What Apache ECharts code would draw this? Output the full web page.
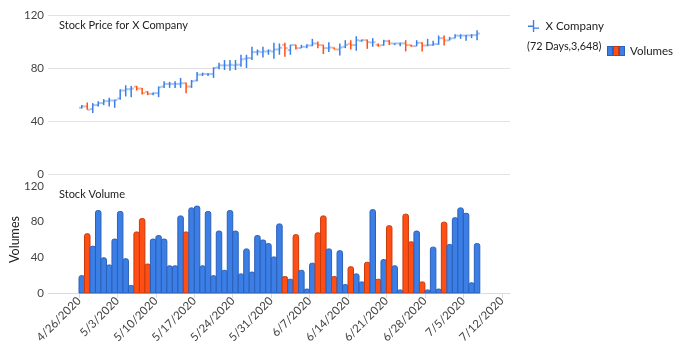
<!DOCTYPE html>
<html>
<head>
<meta charset="utf-8">
<script src="https://cdn.jsdelivr.net/npm/echarts@6/dist/echarts.min.js"></script>
<style>
  html, body { margin: 0; padding: 0; background: #fff; }
  #chart { width: 680px; height: 351px; }
</style>
</head>
<body>
<div id="chart"></div>
<script>
// trading days start on 4/26/2020, one bar per day
const startDate = new Date(2020, 3, 26)
const opens = [
  50, 51, 49, 52, 53.5, 55, 55.5, 57, 63, 64,
  66, 64.5, 62, 60.5, 61, 66, 68, 68, 68, 68.5,
  66, 70.5, 75, 75.5, 75.5, 80.5, 82, 82, 82, 82.5,
  87, 87.5, 92, 92, 92.5, 92.5, 94, 97.5, 93.5, 97.4,
  95, 96, 97, 98.5, 97.3, 95, 95.3, 94, 96, 98.3,
  97.3, 100.5, 101, 99.3, 97.5, 97.3, 100.3, 98.5, 98.5, 98.6,
  97.3, 96.5, 99, 97, 97.3, 98, 102.5, 100.8, 102.5, 104.3,
  104.5, 104.6, 104.8
]
const highs = [
  52, 54, 53.5, 55, 56.5, 57.5, 56, 64, 67, 66.5,
  66.5, 65, 62.5, 61.5, 66, 70, 69.5, 70, 72.5, 69,
  71, 77, 76.5, 76, 80.5, 84, 86, 86, 86, 90,
  90, 96, 94, 96, 94, 99, 98.5, 99, 97.5, 97.5,
  97.5, 98, 102, 100, 97.5, 99.5, 95.5, 98.5, 101, 101,
  104, 101.5, 101.5, 102.5, 98.5, 101.3, 101.3, 98.6, 99, 101,
  97.5, 101, 99.5, 102, 100.5, 104.5, 104.5, 103.5, 105.5, 105.5,
  105, 105.5, 108.5
]
const lows = [
  49.5, 48.5, 46, 51, 52, 51, 50, 56, 58.5, 58,
  63, 60, 59.5, 59.5, 58, 65, 65, 65, 65, 61,
  65, 70, 74, 74, 72.5, 79, 78.5, 78, 78.5, 81,
  80, 86, 89.5, 88, 90, 87, 90, 88.5, 90, 94,
  95, 95, 96.5, 95, 90.5, 92, 94, 89.5, 95, 94,
  93, 100, 94.5, 96, 96, 96.8, 97.3, 97.3, 96.5, 92.5,
  96, 96.5, 92.5, 96.5, 96.8, 97.5, 97, 100.8, 102.4, 102,
  100.5, 102.5, 101
]
const closes = [
  51, 48.5, 52, 53.5, 55, 55.5, 55.8, 63, 64, 64.5,
  64.5, 61, 60.5, 61, 65.5, 68, 68, 68, 68.5, 66,
  70, 75, 75.5, 75.5, 80, 82, 82, 82.5, 82.5, 86.5,
  87.5, 92, 92.5, 92.5, 93, 94, 95.3, 95, 97.4, 95,
  96, 97, 98.5, 97.3, 95, 95.5, 94, 95.5, 97.5, 97.3,
  101, 101, 99.5, 99.5, 97, 100.3, 98.6, 98.6, 98.6, 97.3,
  96.5, 99, 97, 97.3, 98, 102.5, 100.8, 102.2, 104.5, 104.5,
  104.6, 104.8, 106
]
const volumes = [
  20, 67, 53, 93, 40, 32, 61, 92, 39, 9,
  69, 84, 33, 61, 65, 61, 31, 31, 87, 69,
  96, 98, 31, 92, 20, 70, 26, 93, 70, 22,
  50, 24, 65, 60, 56, 41, 78, 19, 16, 66,
  26, 5, 34, 68, 87, 50, 19, 48, 10, 30,
  22, 13, 35, 94, 16, 38, 76, 31, 4, 89,
  58, 70, 13, 4, 52, 5, 80, 55, 85, 96,
  90, 12, 56
]
const weekTicks = [0, 7, 14, 21, 28, 35, 42, 49, 56, 63, 70, 77]
const priceTicks = [0, 40, 80, 120]
const volumeTicks = [0, 40, 80, 120]
const legendNote = '(72 Days,3,648)'

const BLUE = '#3b7ee6'
const BLUE_EDGE = '#2c60b8'
const RED = '#ff4f14'
const RED_EDGE = '#c83a0a'
const FONT = 'Lato'

const priceData = opens.map((o, i) => [i + 0.5, o, highs[i], lows[i], closes[i]])
const volumeData = volumes.map((v, i) => [i + 0.5, v, closes[i] < opens[i] ? 1 : 0])

function dayLabel(d) {
  const t = new Date(startDate.getTime() + Math.round(d) * 86400000)
  return (t.getMonth() + 1) + '/' + t.getDate() + '/' + t.getFullYear()
}

function renderHLOC(params, api) {
  const x = api.value(0)
  const o = api.value(1), h = api.value(2), l = api.value(3), c = api.value(4)
  const pH = api.coord([x, h])
  const pL = api.coord([x, l])
  const pO = api.coord([x, o])
  const pC = api.coord([x, c])
  const half = api.size([1, 0])[0] / 2
  const color = c < o ? RED : BLUE
  return {
    type: 'group',
    children: [
      { type: 'line', shape: { x1: pO[0] - half, y1: pO[1], x2: pO[0], y2: pO[1] },
        style: { stroke: color, lineWidth: 2, opacity: 0.45 } },
      { type: 'line', shape: { x1: pC[0], y1: pC[1], x2: pC[0] + half, y2: pC[1] },
        style: { stroke: color, lineWidth: 2, opacity: 0.45 } },
      { type: 'line', shape: { x1: pH[0], y1: pH[1], x2: pL[0], y2: pL[1] },
        style: { stroke: color, lineWidth: 1.5 } }
    ]
  }
}

function renderVolume(params, api) {
  const x = api.value(0)
  const top = api.coord([x - 0.5, api.value(1)])
  const base = api.coord([x + 0.5, 0])
  const down = api.value(2) === 1
  return {
    type: 'rect',
    shape: { x: top[0], y: top[1] + 0.5, width: base[0] - top[0], height: base[1] - top[1] - 0.5, r: [2, 2, 0, 0] },
    style: { fill: down ? RED : BLUE, stroke: down ? RED_EDGE : BLUE_EDGE, lineWidth: 1 }
  }
}

const volIcon = 'image://data:image/svg+xml;utf8,' + encodeURIComponent(
  '<svg xmlns="http://www.w3.org/2000/svg" width="18" height="10">' +
  '<rect x="0.5" y="0.5" width="5" height="9" fill="' + BLUE + '" stroke="' + BLUE_EDGE + '"/>' +
  '<rect x="6.5" y="0.5" width="5" height="9" fill="' + RED + '" stroke="' + RED_EDGE + '"/>' +
  '<rect x="12.5" y="0.5" width="5" height="9" fill="' + BLUE + '" stroke="' + BLUE_EDGE + '"/></svg>')

const chart = echarts.init(document.getElementById('chart'))
const xBase = {
  type: 'value',
  min: -5.65,
  max: 78.5,
  splitLine: { show: false }
}

chart.setOption({
  animation: false,
  textStyle: { fontFamily: FONT },
  title: [
    { text: 'Stock Price for X Company', left: 54, top: 15,
      textStyle: { fontSize: 11, fontWeight: 'normal', color: '#222', fontFamily: FONT } },
    { text: 'Stock Volume', left: 54, top: 184,
      textStyle: { fontSize: 11, fontWeight: 'normal', color: '#222', fontFamily: FONT } }
  ],
  legend: [
    { data: [{ name: 'X Company', icon: 'path://M0,6h6v1.5h-6z M5.25,0h1.5v13h-1.5z M6,8h6v1.5h-6z' }],
      left: 523, top: 15, itemWidth: 14, itemHeight: 12, itemGap: 6,
      textStyle: { fontSize: 11.5, color: '#222', fontFamily: FONT } },
    { data: [{ name: 'Volumes', icon: volIcon }],
      left: 602, top: 40, itemWidth: 18, itemHeight: 10, itemGap: 4,
      textStyle: { fontSize: 11.5, color: '#222', fontFamily: FONT } }
  ],
  graphic: [
    { type: 'text', left: 527, top: 41,
      style: { text: legendNote, fontSize: 10.8, fill: '#222', fontFamily: FONT } }
  ],
  grid: [
    { left: 48, right: 170, top: 15, height: 159, outerBoundsMode: 'none' },
    { left: 48, right: 170, top: 186, height: 107, outerBoundsMode: 'none' }
  ],
  xAxis: [
    Object.assign({}, xBase, {
      gridIndex: 0,
      axisLine: { show: false },
      axisTick: { show: false },
      axisLabel: { show: false }
    }),
    Object.assign({}, xBase, {
      gridIndex: 1,
      axisLine: { show: true, lineStyle: { color: '#dcdcdc' } },
      axisTick: { show: true, length: 5, customValues: weekTicks, lineStyle: { color: '#dcdcdc' } },
      axisLabel: {
        customValues: weekTicks,
        rotate: 45,
        margin: 6,
        fontSize: 11.5,
        color: '#444',
        fontFamily: FONT,
        formatter: dayLabel
      }
    })
  ],
  yAxis: [
    {
      type: 'value', gridIndex: 0, min: 0, max: 120, interval: 40,
      axisLine: { show: false }, axisTick: { show: false },
      axisLabel: { margin: 4, fontSize: 11.5, color: '#444', fontFamily: FONT,
        customValues: priceTicks },
      splitLine: { show: true, lineStyle: { color: '#e2e2e2' } }
    },
    {
      type: 'value', gridIndex: 1, min: 0, max: 120, interval: 40,
      name: 'Volumes', nameLocation: 'middle', nameGap: 27, nameRotate: 90,
      nameMoveOverlap: false,
      nameTextStyle: { fontSize: 12.5, color: '#222', fontFamily: FONT },
      axisLine: { show: false }, axisTick: { show: false },
      axisLabel: { margin: 4, fontSize: 11.5, color: '#444', fontFamily: FONT,
        customValues: volumeTicks },
      splitLine: { show: false }
    }
  ],
  series: [
    {
      name: 'X Company',
      type: 'custom',
      xAxisIndex: 0,
      yAxisIndex: 0,
      color: BLUE,
      renderItem: renderHLOC,
      encode: { x: 0, y: [1, 2, 3, 4] },
      data: priceData
    },
    {
      name: 'Volumes',
      type: 'custom',
      xAxisIndex: 1,
      yAxisIndex: 1,
      color: BLUE,
      renderItem: renderVolume,
      encode: { x: 0, y: 1 },
      data: volumeData
    }
  ]
})
</script>
</body>
</html>
